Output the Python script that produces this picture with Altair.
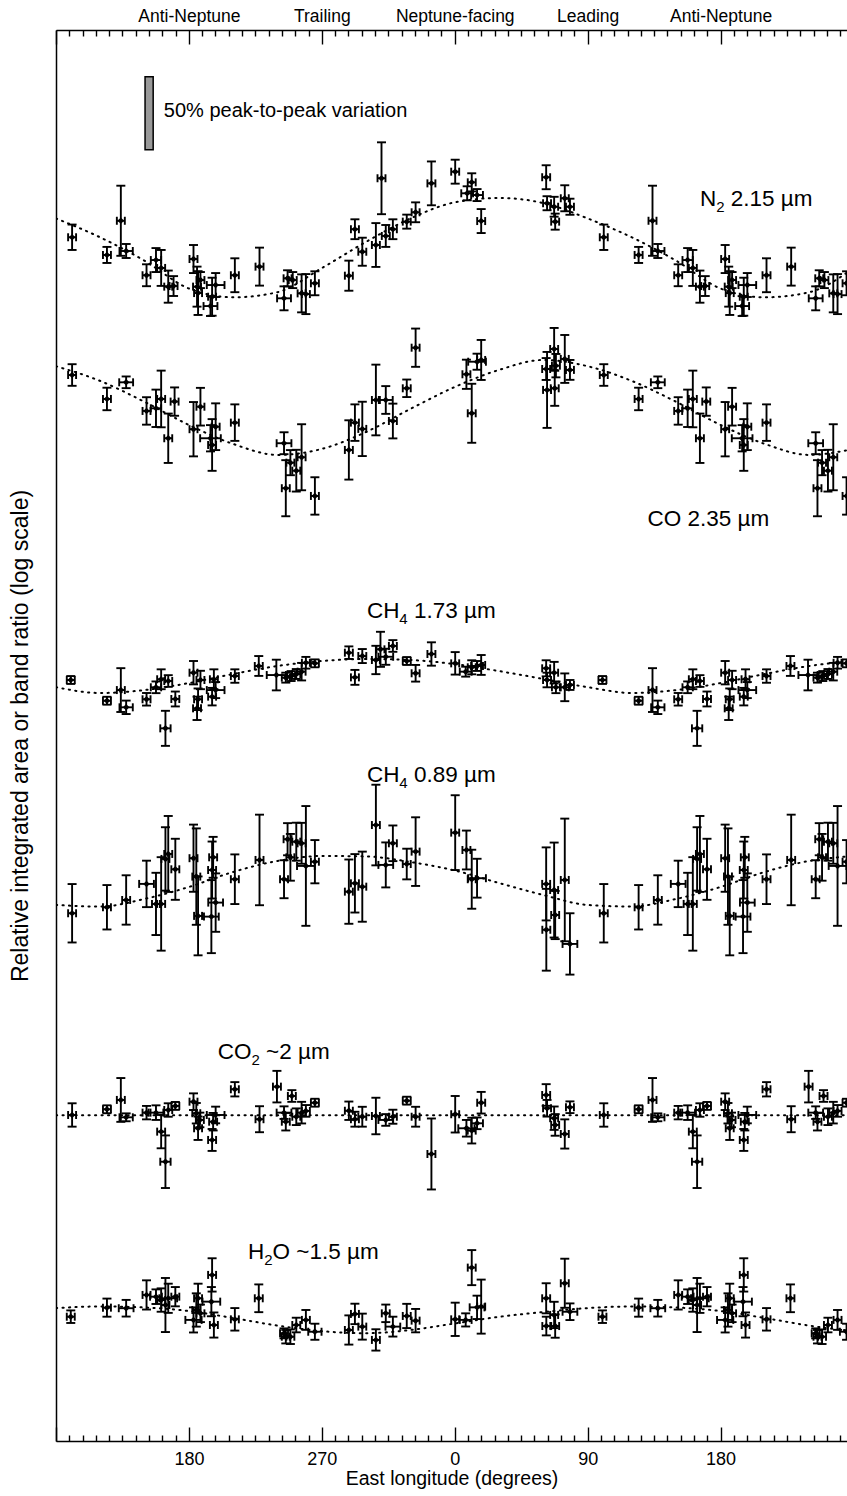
import altair as alt
import pandas as pd

# ---------------------------------------------------------------------------
# Band strengths versus sub-observer East longitude.
# For every band: longitude of each spectrum (deg E), half-width of the
# longitude coverage (deg), relative band strength (log scale, in percent of
# the band mean) and its 1-sigma uncertainty.  FIT holds the sinusoidal fit
# sampled every 30 deg starting at 0 deg E.
# ---------------------------------------------------------------------------

N2_LON = [100.9, 124.5, 133.9, 137.5, 151.3, 157.7, 161.2, 166.0, 169.6, 183.1,
          185.5, 186.2, 187.8, 195.7, 198.1, 194.6, 211.1, 227.8, 244.4, 246.8,
          250.3, 256.3, 259.2, 265.3, 288.3, 292.4, 297.4, 306.6, 313.3, 318.1,
          310.4, 327.5, 333.5, 344.2, 0.3, 8.4, 11.5, 15.1, 17.9, 61.9,
          62.5, 67.3, 68.0, 74.5, 78.0]
N2_DLON = [2.7, 2.7, 2.7, 4.5, 2.7, 3.5, 2.7, 2.7, 2.7, 2.7,
           2.7, 2.7, 2.7, 2.7, 6.0, 4.7, 2.7, 2.7, 4.7, 2.7,
           2.7, 2.7, 2.7, 2.7, 2.7, 2.7, 2.7, 2.7, 2.7, 2.7,
           2.7, 2.7, 2.7, 2.7, 2.7, 4.0, 2.7, 4.0, 2.7, 2.7,
           2.7, 2.7, 2.7, 2.7, 2.7]
N2_VAL = [8.1, -4.0, 19.4, -1.3, -17.9, -7.5, -12.9, -25.7, -25.3, -6.8,
          -25.7, -30.1, -21.2, -32.6, -24.6, -39.0, -17.9, -12.0, -33.7, -20.0,
          -21.2, -30.3, -30.8, -23.4, -18.2, 13.6, -1.8, 2.8, 9.0, 13.6,
          48.5, 18.8, 25.2, 45.0, 53.0, 38.2, 45.7, 37.0, 19.2, 49.2,
          31.4, 29.0, 18.8, 34.8, 29.0]
N2_ERR = [8.7, 5.5, 24.0, 4.8, 7.5, 8.2, 12.3, 11.0, 6.8, 9.6,
          13.7, 15.0, 5.5, 13.0, 8.2, 6.8, 11.6, 13.0, 8.2, 5.5,
          5.5, 13.0, 13.7, 8.2, 10.3, 6.8, 9.6, 15.0, 7.5, 6.8,
          24.6, 4.8, 6.8, 15.0, 8.2, 4.8, 6.2, 4.1, 8.2, 8.2,
          4.8, 6.8, 5.5, 8.9, 5.5]
N2_FIT = [32, 35, 31.5, 21, 8, -8, -27, -33, -29.5, -13, 5, 21]

CO_LON = [100.9, 124.5, 137.5, 151.3, 157.7, 161.2, 166.0, 170.3, 183.1, 187.8,
          194.6, 195.7, 198.1, 211.1, 244.4, 245.6, 248.7, 252.7, 256.3, 265.3,
          288.3, 292.4, 297.4, 306.6, 313.3, 318.1, 327.5, 333.5, 7.9, 11.5,
          15.1, 17.9, 61.9, 62.5, 67.3, 67.7, 68.5, 74.5, 78.0]
CO_DLON = [2.7, 2.7, 4.7, 2.7, 3.5, 2.7, 2.7, 2.7, 2.7, 2.7,
           7.0, 2.7, 2.7, 2.7, 5.0, 2.7, 2.7, 2.7, 2.7, 2.7,
           2.7, 2.7, 2.7, 2.7, 4.7, 2.7, 2.7, 2.7, 2.7, 2.7,
           6.0, 2.7, 2.7, 2.7, 2.7, 2.7, 2.7, 2.7, 2.7]
CO_VAL = [21.8, 5.4, 16.8, -2.8, -1.0, 5.4, -21.5, 3.6, -15.3, 0.1,
          -21.5, -26.1, -13.6, -10.8, -24.9, -55.7, -38.2, -43.7, -34.5, -61.0,
          -29.5, -10.8, -15.1, 4.7, 4.7, -9.7, 12.7, 40.5, 22.3, -4.4,
          30.9, 32.1, 25.9, 11.6, 39.6, 12.7, 28.2, 32.8, 25.3]
CO_ERR = [7.4, 7.7, 4.0, 9.4, 12.8, 19.4, 16.9, 9.7, 18.6, 12.9,
          9.0, 17.7, 16.0, 12.5, 7.5, 19.2, 8.6, 14.3, 22.6, 12.8,
          20.3, 12.5, 18.6, 24.2, 9.5, 11.9, 6.0, 13.1, 10.0, 20.2,
          5.5, 13.7, 7.5, 26.0, 14.4, 12.0, 8.0, 16.4, 6.8]
CO_FIT = [13.6, 25.3, 32.1, 27.8, 17.7, 3.4, -12.4, -25.4, -32.9, -28.8, -17.2, -1.4]

CH4A_LON = [100.0, 124.5, 133.9, 137.5, 151.3, 157.7, 161.2, 164.1, 166.0, 170.8,
            183.1, 185.5, 186.2, 187.8, 195.7, 196.9, 198.1, 211.1, 227.3, 239.2,
            245.6, 249.2, 252.7, 256.3, 259.2, 265.3, 288.3, 292.4, 297.4, 306.6,
            309.7, 313.3, 318.1, 327.5, 333.5, 344.2, 0.3, 7.4, 11.5, 15.1,
            17.9, 61.9, 62.5, 67.3, 68.5, 74.5, 78.0]
CH4A_DLON = [2.7, 2.7, 2.7, 4.5, 2.7, 3.5, 2.7, 3.5, 2.7, 2.7,
             2.7, 2.7, 2.7, 2.7, 2.7, 2.7, 6.0, 2.7, 2.7, 6.5,
             2.7, 2.7, 2.7, 2.7, 2.7, 2.7, 2.7, 2.7, 2.7, 2.7,
             2.7, 5.0, 2.7, 2.7, 2.7, 2.7, 2.7, 4.0, 2.7, 4.0,
             2.7, 2.7, 2.7, 2.7, 2.7, 2.7, 2.7]
CH4A_VAL = [-3.0, -17.2, -9.9, -21.7, -16.2, -8.0, -2.5, -36.1, -3.7, -16.0,
            2.0, -22.4, -16.2, -3.0, -14.4, -2.5, -9.9, -0.3, 6.6, 0.4,
            -1.4, -0.3, 1.1, 2.7, 8.8, 8.4, 15.7, -1.2, 13.4, 10.7,
            18.0, 12.9, 20.3, 10.0, 1.6, 14.8, 8.4, 2.7, 5.7, 6.6,
            7.3, 5.0, -3.0, 2.0, -8.0, -8.0, -6.4]
CH4A_ERR = [2.7, 2.7, 15.0, 4.6, 4.3, 4.0, 6.8, 12.0, 4.0, 5.1,
            8.0, 8.0, 7.4, 6.3, 6.0, 6.8, 5.5, 4.6, 6.8, 10.5,
            3.4, 3.4, 3.4, 6.0, 4.0, 2.7, 4.3, 5.1, 4.8, 9.7,
            12.0, 5.5, 4.0, 2.7, 5.7, 8.0, 7.7, 3.4, 4.8, 3.4,
            6.8, 5.5, 5.0, 7.4, 4.0, 9.5, 3.4]
CH4A_FIT = [7.9, 3.1, -2.3, -7.9, -11.9, -9.9, -5.1, 1.1, 6.6, 10.0, 11.4, 10.7]

CH4B_LON = [100.9, 124.5, 137.5, 151.3, 157.7, 161.2, 164.1, 166.0, 170.8, 183.1,
            185.0, 186.2, 195.2, 195.7, 196.4, 198.1, 211.1, 227.8, 244.4, 246.8,
            248.7, 252.7, 256.3, 259.2, 265.3, 288.3, 292.4, 297.4, 306.6, 313.3,
            318.1, 327.5, 333.5, 0.3, 7.9, 11.5, 15.1, 61.9, 62.0, 67.3,
            68.0, 74.5, 78.0]
CH4B_DLON = [2.7, 2.7, 2.7, 5.0, 2.7, 2.7, 2.7, 2.7, 2.7, 2.7,
             2.7, 2.7, 5.0, 2.7, 2.7, 5.0, 2.7, 2.7, 2.7, 2.7,
             2.7, 2.7, 2.7, 6.0, 2.7, 2.7, 2.7, 2.7, 2.7, 5.0,
             2.7, 2.7, 2.7, 2.7, 2.7, 2.7, 6.0, 2.7, 2.7, 2.7,
             2.7, 2.7, 5.0]
CH4B_VAL = [-21.7, -17.6, -12.6, -1.6, -15.3, -15.3, 15.5, 18.9, 8.4, 16.0,
            3.4, -23.5, -24.0, 7.9, 16.6, -14.4, 1.6, 14.8, 1.6, 29.0,
            16.6, 27.3, 26.2, 10.7, 13.6, -6.9, -1.2, -3.5, 38.7, 11.4,
            26.2, 12.0, 20.5, 33.5, 21.6, 1.6, 2.3, -1.6, -33.0, -5.8,
            -22.9, 1.1, -42.7]
CH4B_ERR = [20.0, 15.2, 16.9, 15.9, 21.3, 32.0, 21.7, 26.0, 20.9, 23.0,
            33.0, 27.0, 25.0, 19.5, 14.0, 20.0, 17.0, 31.0, 13.0, 11.0,
            16.0, 13.0, 14.0, 41.0, 14.8, 22.0, 20.0, 24.0, 27.6, 15.4,
            12.2, 10.5, 23.5, 25.6, 13.3, 20.2, 13.3, 25.0, 28.0, 32.5,
            16.5, 42.0, 21.0]
CH4B_FIT = [7.6, -1.0, -9.2, -16.0, -17.1, -11.9, -3.7, 6.6, 14.1, 17.5, 17.2, 13.4]

CO2_LON = [100.9, 124.5, 133.9, 137.5, 151.3, 157.7, 161.2, 164.1, 166.0, 170.8,
           183.1, 185.0, 186.2, 187.4, 195.7, 196.4, 198.1, 211.1, 227.8, 239.6,
           244.4, 245.6, 249.7, 252.7, 256.3, 259.2, 265.3, 288.3, 292.4, 297.4,
           306.6, 313.3, 318.1, 327.5, 333.5, 344.2, 0.3, 7.9, 11.5, 15.1,
           17.9, 61.9, 62.5, 67.3, 68.0, 74.5, 78.0]
CO2_DLON = [2.7, 2.7, 2.7, 4.5, 2.7, 5.0, 2.7, 3.5, 2.7, 2.7,
            2.7, 2.7, 2.7, 2.7, 2.7, 2.7, 6.0, 2.7, 2.7, 2.7,
            5.0, 2.7, 2.7, 2.7, 2.7, 2.7, 2.7, 2.7, 2.7, 2.7,
            2.7, 5.0, 2.7, 2.7, 2.7, 2.7, 2.7, 5.5, 2.7, 4.0,
            2.7, 2.7, 2.7, 2.7, 2.7, 2.7, 2.7]
CO2_VAL = [0.2, 4.1, 10.5, -1.4, 1.8, 1.8, -11.2, -31.8, 3.6, 6.4,
           9.3, 1.4, -8.9, -3.2, -16.9, -4.4, 0.2, 17.8, -2.7, 19.6,
           1.8, -4.4, 13.2, -1.0, 1.8, 3.0, 8.6, 3.1, -2.7, -1.0,
           -0.5, -3.2, -1.0, 10.0, -1.0, -26.5, 0.7, -8.9, -10.5, -5.5,
           8.6, 13.9, 4.8, -2.0, -6.6, -12.8, 5.5]
CO2_ERR = [8.0, 2.7, 15.0, 2.7, 4.6, 5.0, 11.4, 18.0, 4.6, 2.7,
           5.7, 7.0, 8.0, 5.0, 7.5, 6.0, 5.7, 4.9, 8.9, 10.8,
           4.3, 6.0, 4.0, 5.7, 7.4, 4.0, 2.7, 6.3, 5.1, 6.8,
           12.5, 4.0, 4.8, 2.7, 6.8, 24.3, 12.5, 5.7, 8.8, 4.0,
           7.4, 7.4, 5.7, 8.0, 7.4, 10.0, 4.0]
CO2_FIT = [0, 0, 0, 0, 0, 0, 0, 0, 0, 0, 0, 0]

H2O_LON = [100.0, 124.5, 137.5, 151.3, 157.7, 161.2, 164.1, 166.0, 170.8, 183.1,
           185.0, 186.2, 187.8, 195.2, 195.7, 196.9, 211.1, 227.3, 244.4, 245.6,
           248.7, 252.7, 259.2, 265.3, 288.3, 292.4, 297.4, 306.6, 313.3, 318.1,
           327.5, 333.5, 0.3, 7.4, 11.5, 15.1, 17.9, 61.9, 62.0, 67.3,
           68.0, 74.5, 78.0]
H2O_DLON = [2.7, 2.7, 5.0, 2.7, 4.0, 2.7, 2.7, 6.0, 2.7, 5.5,
            2.7, 2.7, 2.7, 6.0, 2.7, 2.7, 2.7, 2.7, 2.7, 2.7,
            2.7, 2.7, 2.7, 4.5, 2.7, 2.7, 2.7, 2.7, 2.7, 5.0,
            2.7, 2.7, 2.7, 4.0, 2.7, 5.0, 2.7, 2.7, 2.7, 2.7,
            2.7, 2.7, 5.0]
H2O_VAL = [-0.9, 5.3, 4.9, 14.0, 12.8, 10.5, 7.1, 11.7, 12.8, -3.1,
           3.7, 11.7, 1.4, 9.4, 27.7, -6.6, -2.7, 11.7, -12.3, -14.6,
           -14.6, -6.6, -3.1, -11.2, -10.0, 1.0, -7.7, -16.8, 1.4, -7.7,
           -0.4, -3.6, -2.7, -3.1, 32.7, 5.5, 6.0, 11.7, -7.3, 0.3,
           -7.3, 22.0, 2.5]
H2O_ERR = [4.3, 6.2, 5.7, 10.0, 5.0, 8.0, 18.5, 10.0, 6.6, 8.6,
           11.4, 10.0, 6.0, 10.0, 11.4, 8.6, 7.7, 9.5, 3.4, 4.6,
           5.0, 5.0, 6.8, 5.5, 10.0, 7.0, 8.9, 7.3, 6.0, 6.8,
           8.3, 8.0, 11.4, 4.5, 12.0, 8.0, 18.5, 10.3, 6.4, 9.0,
           8.0, 16.8, 5.7]
H2O_FIT = [-5.5, -1.0, 2.3, 5.0, 6.1, 5.4, 3.0, -1.8, -7.0, -10.8, -12.2, -10.0]

# vertical offset of each band in the stacked display (same log units)
BANDS = [
    ("N2", -150, N2_LON, N2_DLON, N2_VAL, N2_ERR, N2_FIT),
    ("CO", -258, CO_LON, CO_DLON, CO_VAL, CO_ERR, CO_FIT),
    ("CH4 1.73", -442, CH4A_LON, CH4A_DLON, CH4A_VAL, CH4A_ERR, CH4A_FIT),
    ("CH4 0.89", -583, CH4B_LON, CH4B_DLON, CH4B_VAL, CH4B_ERR, CH4B_FIT),
    ("CO2", -743, CO2_LON, CO2_DLON, CO2_VAL, CO2_ERR, CO2_FIT),
    ("H2O", -880, H2O_LON, H2O_DLON, H2O_VAL, H2O_ERR, H2O_FIT),
]

X_MIN, X_MAX = 90.0, 625.6      # unwrapped East longitude shown
Y_MIN, Y_MAX = -966.0, 0.0
W, H = 791, 1411
PX_PER_DEG = W / (X_MAX - X_MIN)

# band labels: (longitude, level, text before subscript, subscript,
#               gap after subscript in em, text after)
LABELS = [
    (526.0, -116.0, "N", "2", 0.278, "2.15 µm"),
    (490.5, -335.0, "CO 2.35 µm", "", 0.0, ""),
    (300.5, -398.0, "CH", "4", 0.278, "1.73 µm"),
    (300.5, -510.0, "CH", "4", 0.278, "0.89 µm"),
    (199.5, -699.5, "CO", "2", 0.278, "~2 µm"),
    (220.0, -836.5, "H", "2", 0.0, "O ~1.5 µm"),
]
FS = 18          # axis labels
LFS = 22.5       # band labels
SUB_FS = 15
EM = {"N": 0.722, "C": 0.722, "H": 0.722, "O": 0.778}
for d in "0123456789":
    EM[d] = 0.556

# ---------------------------------------------------------------------------
pts, fits = [], []
for name, base, lons, dlons, vals, errs, fit in BANDS:
    for lon, dl, v, e in zip(lons, dlons, vals, errs):
        x0 = lon if lon >= 90 else lon + 360
        for x in (x0, x0 + 360):
            if x - dl <= X_MAX + 3:
                pts.append(dict(band=name, lon=x, lon_lo=x - dl, lon_hi=x + dl,
                                level=base + v, lo=base + v - e, hi=base + v + e))
    for x in range(90, 631, 30):
        fits.append(dict(band=name, lon=x, level=base + fit[(x % 360) // 30]))

pts = pd.DataFrame(pts)
fits = pd.DataFrame(fits)

# each label is split in three runs so the subscript can be set smaller and lower
lab_rows = []
for lon, lev, a, s, gap, b in LABELS:
    wa = sum(EM.get(c, 0.6) for c in a) * LFS
    ws = sum(EM.get(c, 0.6) for c in s) * SUB_FS + gap * LFS
    lab_rows.append(dict(text=a, lon=lon, level=lev, kind="main"))
    if s:
        lab_rows.append(dict(text=s, lon=lon + wa / PX_PER_DEG, level=lev, kind="sub"))
        lab_rows.append(dict(text=b, lon=lon + (wa + ws) / PX_PER_DEG, level=lev,
                             kind="main"))
labs = pd.DataFrame(lab_rows)
labs_main = labs[labs.kind == "main"]
labs_sub = labs[labs.kind == "sub"]

scale_bar = pd.DataFrame([dict(lon=150.3, lon2=155.8, lo=-82.0, hi=-32.0,
                               tlon=163.0, tlev=-55.5,
                               text="50% peak-to-peak variation")])

FONT = "Liberation Sans"
xs = alt.Scale(domain=[X_MIN, X_MAX], nice=False, zero=False)
ys = alt.Scale(domain=[Y_MIN, Y_MAX], nice=False, zero=False)

MAJOR = [180, 270, 360, 450, 540]
MINOR = list(range(90, 631, 9))
TICK_SIZE = {"condition": {"test": "datum.value % 90 === 0", "value": 14}, "value": 6}

ax_bottom = alt.Axis(orient="bottom", values=MAJOR, ticks=False, grid=False,
                     labelExpr="'' + (datum.value % 360)",
                     labelFont=FONT, labelFontSize=FS, labelColor="black",
                     labelPadding=9, domainColor="black", domainWidth=1.5,
                     title="East longitude (degrees)", titleFont=FONT,
                     titleFontSize=19.5, titleFontWeight="normal",
                     titleColor="black", titlePadding=1)
ax_bottom_ticks = alt.Axis(orient="top", offset=-H, values=MINOR, labels=False,
                           domain=False, grid=False, title=None,
                           tickColor="black", tickWidth=1.4, tickSize=TICK_SIZE)
ax_top = alt.Axis(orient="top", values=MAJOR, ticks=False, grid=False,
                  labelExpr="datum.value % 360 == 0 ? 'Neptune-facing' : "
                            "datum.value % 360 == 90 ? 'Leading' : "
                            "datum.value % 360 == 180 ? 'Anti-Neptune' : 'Trailing'",
                  labelFont=FONT, labelFontSize=17.5, labelColor="black",
                  labelPadding=5, domainColor="black", domainWidth=1.5, title=None)
ax_top_ticks = alt.Axis(orient="bottom", offset=-H, values=MINOR, labels=False,
                        domain=False, grid=False, title=None,
                        tickColor="black", tickWidth=1.4, tickSize=TICK_SIZE)
ax_y = alt.Axis(orient="left", ticks=False, labels=False, grid=False,
                domainColor="black", domainWidth=1.5,
                title="Relative integrated area or band ratio (log scale)",
                titleFont=FONT, titleFontSize=23, titleFontWeight="normal",
                titleColor="black", titlePadding=24)

def Y(field):
    return alt.Y(field, type="quantitative", scale=ys, axis=ax_y)

fit_line = alt.Chart(fits).mark_line(
    color="black", strokeWidth=2, strokeDash=[1.2, 5.3], strokeCap="round",
    interpolate="monotone", clip=True
).encode(x=alt.X("lon:Q", scale=xs, axis=ax_bottom), y=Y("level"), detail="band:N")

SW = 1.9
vbar = alt.Chart(pts).mark_rule(color="black", strokeWidth=SW, clip=True).encode(
    x=alt.X("lon:Q", scale=xs, axis=ax_bottom_ticks), y=Y("lo"), y2="hi")

hbar = alt.Chart(pts).mark_rule(color="black", strokeWidth=SW, clip=True).encode(
    x=alt.X("lon_lo:Q", scale=xs, axis=ax_top), x2="lon_hi", y=Y("level"))

HCAP = "M-1,0L1,0"
VCAP = "M0,-1L0,1"

def cap(shape, size, xf, yf):
    return alt.Chart(pts).mark_point(shape=shape, size=size, color="black",
                                     strokeWidth=SW, clip=True, opacity=1).encode(
        x=alt.X(xf, type="quantitative", scale=xs, axis=None), y=Y(yf))

cap_lo = cap(HCAP, 81, "lon", "lo")
cap_hi = cap(HCAP, 81, "lon", "hi")
cap_l = cap(VCAP, 64, "lon_lo", "level")
cap_r = cap(VCAP, 64, "lon_hi", "level")

dots = alt.Chart(pts).mark_point(shape="diamond", filled=True, size=42,
                                 color="black", opacity=1, clip=True).encode(
    x=alt.X("lon:Q", scale=xs, axis=ax_top_ticks), y=Y("level"))

bar = alt.Chart(scale_bar).mark_rect(fill="#999999", stroke="black",
                                     strokeWidth=1.5).encode(
    x=alt.X("lon:Q", scale=xs, axis=None), x2="lon2",
    y=Y("lo"), y2="hi")
bar_text = alt.Chart(scale_bar).mark_text(
    align="left", baseline="middle", font=FONT, fontSize=20, color="black"
).encode(x=alt.X("tlon:Q", scale=xs, axis=None), y=Y("tlev"), text="text:N")

lab_main = alt.Chart(labs_main).mark_text(align="left", baseline="middle", font=FONT,
                                          fontSize=LFS, color="black").encode(
    x=alt.X("lon:Q", scale=xs, axis=None), y=Y("level"), text="text:N")
lab_sub = alt.Chart(labs_sub).mark_text(align="left", baseline="middle", font=FONT,
                                        fontSize=SUB_FS, color="black", dy=8).encode(
    x=alt.X("lon:Q", scale=xs, axis=None), y=Y("level"), text="text:N")

chart = alt.layer(
    fit_line, vbar, hbar, cap_lo, cap_hi, cap_l, cap_r, dots,
    bar, bar_text, lab_main, lab_sub
).resolve_axis(x="independent").properties(
    width=W, height=H,
    autosize=alt.AutoSizeParams(type="none"),
    padding={"left": 56, "top": 30, "right": 0, "bottom": 55},
    background="white",
).configure_view(stroke=None)

chart.save("out.html", embed_options={"renderer": "svg", "actions": False})
